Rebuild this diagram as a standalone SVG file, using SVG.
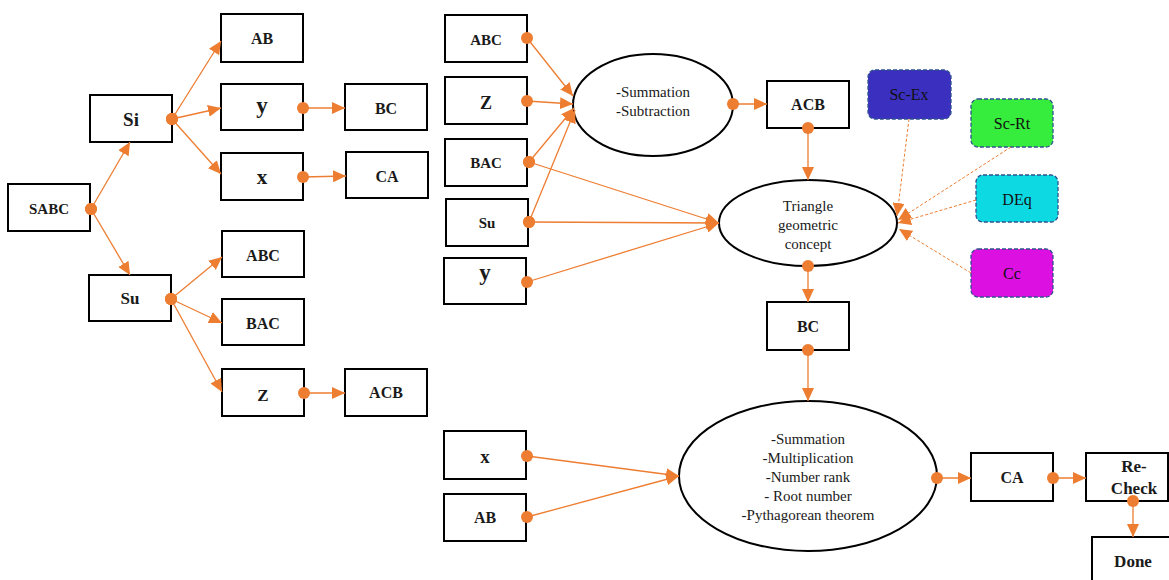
<svg xmlns="http://www.w3.org/2000/svg" width="1169" height="580" viewBox="0 0 1169 580">
  <style>
    .box { fill: #ffffff; stroke: #000000; stroke-width: 2; }
    .ell { fill: #ffffff; stroke: #000000; stroke-width: 2; }
    text { font-family: "Liberation Serif", "DejaVu Serif", serif; }
    .lbl { font-weight: bold; font-size: 15px; fill: #1a1a1a; text-anchor: middle; }
    .txt { font-size: 15px; fill: #1a1a1a; text-anchor: middle; }
    .tag { stroke: #2f528f; stroke-width: 1.3; stroke-dasharray: 4 2; }
    .tagtxt { font-size: 16px; fill: #111111; text-anchor: middle; }
    .link { fill: none; stroke: #ED7D31; stroke-width: 1.3; marker-start: url(#dot); marker-end: url(#arr); }
    .dash { fill: none; stroke: #ED7D31; stroke-width: 1; stroke-dasharray: 3 2; marker-end: url(#arr); }
  </style>
  <defs>
    <marker id="arr" markerWidth="13" markerHeight="12" refX="13" refY="6" orient="auto" markerUnits="userSpaceOnUse">
      <path d="M0,0 L13,6 L0,12 z" fill="#ED7D31"/>
    </marker>
    <marker id="dot" markerWidth="13" markerHeight="13" refX="6.5" refY="6.5" markerUnits="userSpaceOnUse">
      <circle cx="6.5" cy="6.5" r="6" fill="#ED7D31"/>
    </marker>
  </defs>

  <rect width="1169" height="580" fill="#ffffff"/>

  <!-- left tree -->
  <g id="n-sabc"><rect class="box" x="8" y="184" width="82" height="47"/><text class="lbl" x="49" y="214">SABC</text></g>
  <g id="n-si"><rect class="box" x="90" y="95" width="82" height="47"/><text class="lbl" x="131" y="126" style="font-size:19px">Si</text></g>
  <g id="n-su"><rect class="box" x="89" y="275" width="82" height="46"/><text class="lbl" x="130" y="304" style="font-size:17px">Su</text></g>
  <g id="n-ab1"><rect class="box" x="221" y="14" width="82" height="48"/><text class="lbl" x="262" y="44" style="font-size:16px">AB</text></g>
  <g id="n-y1"><rect class="box" x="221" y="84" width="82" height="46"/><text class="lbl" x="262" y="113" style="font-size:23px">y</text></g>
  <g id="n-x1"><rect class="box" x="221" y="153" width="82" height="47"/><text class="lbl" x="262" y="184" style="font-size:21px">x</text></g>
  <g id="n-bc1"><rect class="box" x="345" y="84" width="82" height="46"/><text class="lbl" x="386" y="114" style="font-size:16px">BC</text></g>
  <g id="n-ca1"><rect class="box" x="346" y="152" width="82" height="46"/><text class="lbl" x="387" y="182" style="font-size:16px">CA</text></g>
  <g id="n-abc1"><rect class="box" x="222" y="231" width="82" height="46"/><text class="lbl" x="263" y="261" style="font-size:16px">ABC</text></g>
  <g id="n-bac1"><rect class="box" x="222" y="299" width="82" height="46"/><text class="lbl" x="263" y="329" style="font-size:16px">BAC</text></g>
  <g id="n-z1"><rect class="box" x="222" y="369" width="82" height="47"/><text class="lbl" x="263" y="401" style="font-size:17px">Z</text></g>
  <g id="n-acb1"><rect class="box" x="345" y="369" width="82" height="47"/><text class="lbl" x="386" y="398" style="font-size:16px">ACB</text></g>

  <!-- middle column -->
  <g id="n-abc2"><rect class="box" x="445" y="15" width="82" height="47"/><text class="lbl" x="486" y="45">ABC</text></g>
  <g id="n-z2"><rect class="box" x="445" y="77" width="82" height="47"/><text class="lbl" x="486" y="109" style="font-size:18px">Z</text></g>
  <g id="n-bac2"><rect class="box" x="445" y="139" width="82" height="47"/><text class="lbl" x="486" y="168">BAC</text></g>
  <g id="n-su2"><rect class="box" x="446" y="199" width="82" height="47"/><text class="lbl" x="487" y="228">Su</text></g>
  <g id="n-y2"><rect class="box" x="444" y="258" width="82" height="46"/><text class="lbl" x="485" y="280" style="font-size:23px">y</text></g>
  <g id="n-x2"><rect class="box" x="444" y="431" width="82" height="48"/><text class="lbl" x="485" y="463" style="font-size:19px">x</text></g>
  <g id="n-ab2"><rect class="box" x="444" y="494" width="82" height="47"/><text class="lbl" x="485" y="523" style="font-size:16px">AB</text></g>

  <!-- operations -->
  <g id="n-sumsub">
    <ellipse class="ell" cx="653" cy="105" rx="80" ry="51"/>
    <text class="txt" x="653" y="97">-Summation</text>
    <text class="txt" x="653" y="116">-Subtraction</text>
  </g>
  <g id="n-acb2"><rect class="box" x="767" y="81" width="82" height="47"/><text class="lbl" x="808" y="110" style="font-size:16px">ACB</text></g>
  <g id="n-triangle">
    <ellipse class="ell" cx="808" cy="223" rx="89" ry="43"/>
    <text class="txt" x="808" y="211">Triangle</text>
    <text class="txt" x="808" y="230">geometric</text>
    <text class="txt" x="808" y="249">concept</text>
  </g>
  <g id="n-bc2"><rect class="box" x="767" y="302" width="82" height="48"/><text class="lbl" x="808" y="332" style="font-size:16px">BC</text></g>
  <g id="n-ops">
    <ellipse class="ell" cx="808" cy="476" rx="129" ry="75"/>
    <text class="txt" x="808" y="444">-Summation</text>
    <text class="txt" x="808" y="463">-Multiplication</text>
    <text class="txt" x="808" y="482">-Number rank</text>
    <text class="txt" x="808" y="501">- Root number</text>
    <text class="txt" x="808" y="520">-Pythagorean theorem</text>
  </g>
  <g id="n-ca2"><rect class="box" x="971" y="453" width="82" height="48"/><text class="lbl" x="1012" y="483" style="font-size:16px">CA</text></g>
  <g id="n-recheck">
    <rect class="box" x="1086" y="453" width="82" height="48"/>
    <text class="lbl" x="1134" y="472" style="font-size:17px">Re-</text>
    <text class="lbl" x="1134" y="494" style="font-size:17px">Check</text>
  </g>
  <g id="n-done"><rect class="box" x="1092" y="537" width="80" height="48"/><text class="lbl" x="1133" y="567" style="font-size:17px">Done</text></g>

  <!-- tags -->
  <g id="n-scex"><rect class="tag" x="868" y="70" width="83" height="49" rx="7" fill="#3a2fbf"/><text class="tagtxt" x="909" y="100">Sc-Ex</text></g>
  <g id="n-scrt"><rect class="tag" x="971" y="99" width="82" height="48" rx="7" fill="#36ec3c"/><text class="tagtxt" x="1012" y="129">Sc-Rt</text></g>
  <g id="n-deq"><rect class="tag" x="976" y="175" width="82" height="47" rx="7" fill="#0cd9e1"/><text class="tagtxt" x="1017" y="205">DEq</text></g>
  <g id="n-cc"><rect class="tag" x="971" y="249" width="82" height="48" rx="7" fill="#dc10e0"/><text class="tagtxt" x="1012" y="279">Cc</text></g>

  <!-- connectors -->
  <g id="connectors">
    <path class="link" d="M91,209 L130,142"/>
    <path class="link" d="M91,209 L130,275"/>
    <path class="link" d="M172,119 L221,41"/>
    <path class="link" d="M172,119 L221,108"/>
    <path class="link" d="M172,119 L221,174"/>
    <path class="link" d="M303,108 L345,108"/>
    <path class="link" d="M303,177 L346,176"/>
    <path class="link" d="M171,299 L222,257"/>
    <path class="link" d="M171,299 L222,323"/>
    <path class="link" d="M171,299 L222,392"/>
    <path class="link" d="M304,393 L345,393"/>

    <path class="link" d="M527,38 L573,96"/>
    <path class="link" d="M527,101 L573,104"/>
    <path class="link" d="M529,162 L574,108"/>
    <path class="link" d="M529,222 L575,110"/>
    <path class="link" d="M733,104 L767,104"/>
    <path class="link" d="M808,128 L808,180"/>
    <path class="link" d="M529,162 L719,223"/>
    <path class="link" d="M529,222 L719,223"/>
    <path class="link" d="M527,282 L719,223"/>
    <path class="link" d="M808,266 L808,302"/>
    <path class="link" d="M808,350 L808,401"/>
    <path class="link" d="M527,456 L679,476"/>
    <path class="link" d="M527,517 L679,476"/>
    <path class="link" d="M937,478 L971,478"/>
    <path class="link" d="M1053,478 L1086,478"/>
    <path class="link" d="M1133,501 L1133,537"/>

    <path class="dash" d="M909,119 L897,216"/>
    <path class="dash" d="M1011,147 L898,220"/>
    <path class="dash" d="M976,200 L898,223"/>
    <path class="dash" d="M971,273 L899,229"/>
  </g>
</svg>
